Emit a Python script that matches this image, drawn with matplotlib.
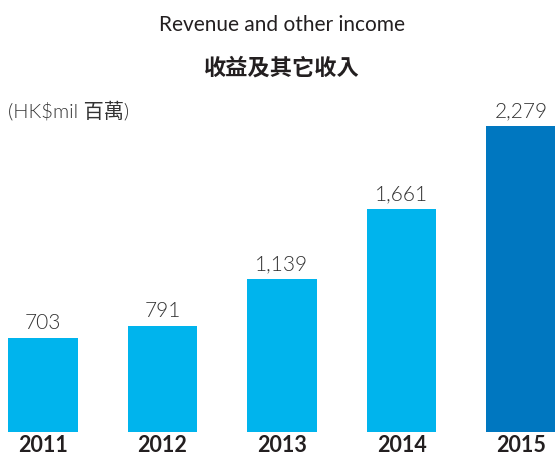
import matplotlib
matplotlib.use("Agg")
import matplotlib.pyplot as plt

# --- data ---
years = ["2011", "2012", "2013", "2014", "2015"]
revenue = [703, 791, 1139, 1661, 2279]
value_labels = ["703", "791", "1,139", "1,661", "2,279"]

light_blue = "#00B4ED"
dark_blue = "#0077C0"
text_col = "#231F20"
fonts = ["Lato", "Noto Sans CJK TC"]

fig = plt.figure(figsize=(5.55, 4.56), dpi=100)
ax = fig.add_axes([0, 23 / 456, 1, 433 / 456])

colors = [light_blue] * (len(years) - 1) + [dark_blue]
x = range(len(years))
ax.bar(x, revenue, width=0.585, color=colors)

ax.set_xlim(-0.36, 4.285)
ax.set_ylim(0, 3230)
ax.axis("off")

for i, (v, lab) in enumerate(zip(revenue, value_labels)):
    ax.text(i, v + 45, lab, ha="center", va="bottom", fontsize=15,
            fontweight=300, color="#333333", family=fonts)

for i, yr in enumerate(years):
    fig.text((43 + i * 119.5) / 555, 1 - 446 / 456, yr, ha="center", va="center",
             fontsize=15.5, fontweight="bold", color=text_col, family=fonts)

fig.text(282 / 555, 1 - 25 / 456, "Revenue and other income", ha="center", va="center",
         fontsize=15, color=text_col, family=fonts)
fig.text(282 / 555, 1 - 68 / 456, "收益及其它收入", ha="center", va="center",
         fontsize=16, fontweight="bold", color=text_col, family=["Noto Sans CJK TC"])
fig.text(8 / 555, 1 - 110 / 456, "(HK$mil 百萬)", ha="left", va="center",
         fontsize=14.5, fontweight=300, color="#333333", family=fonts)

fig.savefig("out.png", dpi=100)
